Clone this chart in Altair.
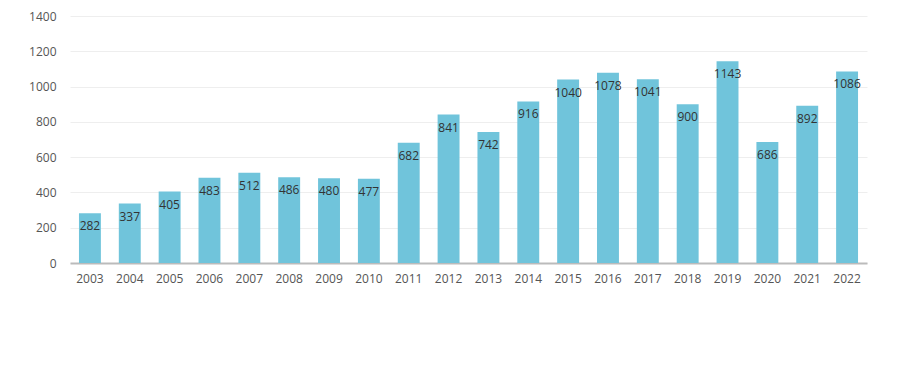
import altair as alt
import pandas as pd

years = [str(y) for y in range(2003, 2023)]
values = [282, 337, 405, 483, 512, 486, 480, 477, 682, 841, 742, 916, 1040, 1078, 1041, 900, 1143, 686, 892, 1086]

df = pd.DataFrame({"year": years, "value": values})

base = alt.Chart(df).encode(
    x=alt.X("year:N", sort=years, title=None,
            scale=alt.Scale(paddingInner=0.45, paddingOuter=0.225),
            axis=alt.Axis(labelAngle=0, ticks=False, domainColor="#bbbbbb", domainWidth=2,
                          labelColor="#555555", labelFontSize=12, labelPadding=10,
                          labelFont="Open Sans")),
    y=alt.Y("value:Q", title=None,
            scale=alt.Scale(domain=[0, 1400]),
            axis=alt.Axis(values=list(range(0, 1401, 200)), ticks=False, domain=False,
                          format="d",
                          gridColor="#eeeeee", labelColor="#555555", labelFontSize=12,
                          labelPadding=14, labelFont="Open Sans")),
)

bars = base.mark_bar(color="#70C4DB")
text = base.mark_text(dy=13, fontSize=12, color="#333333", font="Open Sans").encode(text="value:Q")

chart = (bars + text).properties(
    width=797, height=247,
    autosize=alt.AutoSizeParams(type="none"),
    padding={"left": 62, "top": 8, "right": 20, "bottom": 40},
).configure_view(stroke=None)

chart.save("out.html", embed_options={"renderer": "svg", "actions": False})
